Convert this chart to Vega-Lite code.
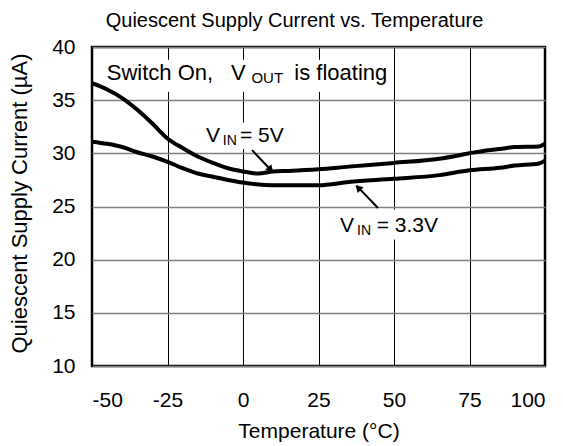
{
  "$schema": "https://vega.github.io/schema/vega-lite/v6.json",
  "width": 453,
  "height": 319,
  "autosize": {"type": "none"},
  "padding": {"left": 92, "top": 47, "right": 18, "bottom": 80},
  "background": "white",
  "title": {
    "text": "Quiescent Supply Current vs. Temperature",
    "font": "Liberation Sans",
    "fontSize": 20,
    "fontWeight": "normal",
    "color": "black",
    "anchor": "middle",
    "frame": "group",
    "offset": 5,
    "dx": -24
  },
  "config": {
    "view": {"stroke": "black", "strokeWidth": 2.5},
    "font": "Liberation Sans",
    "axis": {
      "labelFont": "Liberation Sans",
      "titleFont": "Liberation Sans",
      "labelColor": "black",
      "titleColor": "black",
      "labelFontSize": 21,
      "titleFontSize": 21,
      "titleFontWeight": "normal",
      "ticks": false,
      "domain": false,
      "labelExpr": "'' + datum.value"
    }
  },
  "layer": [
    {
      "data": {
        "values": [
          {"x": -47.0, "x2": 49.0, "y": 38.8, "y2": 35.8},
          {"x": -13.0, "x2": 14.0, "y": 32.9, "y2": 30.4},
          {"x": 31.5, "x2": 65.0, "y": 24.7, "y2": 21.9}
        ]
      },
      "mark": {"type": "rect", "color": "white", "opacity": 1},
      "encoding": {
        "x": {"field": "x", "type": "quantitative", "scale": {"domain": [-50, 100], "nice": false, "zero": false}},
        "y": {"field": "y", "type": "quantitative", "scale": {"domain": [10, 40], "nice": false, "zero": false}},
        "x2": {"field": "x2"},
        "y2": {"field": "y2"}
      }
    },
    {
      "data": {
        "values": [
          {"t": -50, "i": 36.6, "vin": "5V"},
          {"t": -45, "i": 36.0, "vin": "5V"},
          {"t": -40, "i": 35.2, "vin": "5V"},
          {"t": -35, "i": 34.1, "vin": "5V"},
          {"t": -30, "i": 32.8, "vin": "5V"},
          {"t": -25, "i": 31.4, "vin": "5V"},
          {"t": -20, "i": 30.5, "vin": "5V"},
          {"t": -15, "i": 29.7, "vin": "5V"},
          {"t": -10, "i": 29.1, "vin": "5V"},
          {"t": -5, "i": 28.6, "vin": "5V"},
          {"t": 0, "i": 28.3, "vin": "5V"},
          {"t": 5, "i": 28.1, "vin": "5V"},
          {"t": 10, "i": 28.3, "vin": "5V"},
          {"t": 15, "i": 28.35, "vin": "5V"},
          {"t": 25, "i": 28.5, "vin": "5V"},
          {"t": 35, "i": 28.75, "vin": "5V"},
          {"t": 50, "i": 29.1, "vin": "5V"},
          {"t": 65, "i": 29.5, "vin": "5V"},
          {"t": 75, "i": 30.0, "vin": "5V"},
          {"t": 80, "i": 30.25, "vin": "5V"},
          {"t": 85, "i": 30.4, "vin": "5V"},
          {"t": 90, "i": 30.6, "vin": "5V"},
          {"t": 98, "i": 30.65, "vin": "5V"},
          {"t": 100, "i": 30.9, "vin": "5V"},
          {"t": -50, "i": 31.1, "vin": "3.3V"},
          {"t": -45, "i": 30.9, "vin": "3.3V"},
          {"t": -40, "i": 30.6, "vin": "3.3V"},
          {"t": -35, "i": 30.1, "vin": "3.3V"},
          {"t": -30, "i": 29.7, "vin": "3.3V"},
          {"t": -25, "i": 29.2, "vin": "3.3V"},
          {"t": -20, "i": 28.6, "vin": "3.3V"},
          {"t": -15, "i": 28.1, "vin": "3.3V"},
          {"t": -10, "i": 27.8, "vin": "3.3V"},
          {"t": -5, "i": 27.5, "vin": "3.3V"},
          {"t": 0, "i": 27.25, "vin": "3.3V"},
          {"t": 10, "i": 27.0, "vin": "3.3V"},
          {"t": 25, "i": 27.0, "vin": "3.3V"},
          {"t": 35, "i": 27.3, "vin": "3.3V"},
          {"t": 50, "i": 27.6, "vin": "3.3V"},
          {"t": 65, "i": 27.95, "vin": "3.3V"},
          {"t": 75, "i": 28.4, "vin": "3.3V"},
          {"t": 85, "i": 28.65, "vin": "3.3V"},
          {"t": 90, "i": 28.85, "vin": "3.3V"},
          {"t": 98, "i": 29.05, "vin": "3.3V"},
          {"t": 100, "i": 29.3, "vin": "3.3V"}
        ]
      },
      "mark": {"type": "line", "color": "black", "strokeWidth": 4, "interpolate": "monotone", "clip": true},
      "encoding": {
        "x": {
          "field": "t", "type": "quantitative",
          "scale": {"domain": [-50, 100], "nice": false, "zero": false},
          "axis": {
            "values": [-50, -25, 0, 25, 50, 75, 100],
            "title": "Temperature (°C)",
            "labelPadding": 23,
            "gridColor": "black",
            "gridWidth": 1,
            "gridOpacity": 1,
            "titleBaseline": "alphabetic",
            "titleY": 71,
            "titleX": 226.5
          }
        },
        "y": {
          "field": "i", "type": "quantitative",
          "scale": {"domain": [10, 40], "nice": false, "zero": false},
          "axis": {
            "values": [10, 15, 20, 25, 30, 35, 40],
            "title": "Quiescent Supply Current (µA)",
            "titleFontSize": 22,
            "labelPadding": 17,
            "gridColor": "#808080",
            "gridWidth": 1.5,
            "gridOpacity": 1,
            "titleBaseline": "alphabetic",
            "titleAngle": -90,
            "titleX": -66,
            "titleY": 156
          }
        },
        "detail": {"field": "vin", "type": "nominal"}
      }
    },
    {
      "data": {
        "values": [
          {"x": 3.0, "y": 30.3, "x2": 9.0, "y2": 28.5},
          {"x": 44.7, "y": 24.86, "x2": 38.3, "y2": 26.75}
        ]
      },
      "mark": {"type": "rule", "color": "black", "strokeWidth": 2},
      "encoding": {
        "x": {"field": "x", "type": "quantitative", "scale": {"domain": [-50, 100], "nice": false, "zero": false}},
        "y": {"field": "y", "type": "quantitative", "scale": {"domain": [10, 40], "nice": false, "zero": false}},
        "x2": {"field": "x2"},
        "y2": {"field": "y2"}
      }
    },
    {
      "data": {
        "values": [
          {"x": 8.9, "y": 28.55, "a": 138},
          {"x": 38.4, "y": 26.7, "a": 316}
        ]
      },
      "mark": {"type": "point", "shape": "triangle", "filled": true, "color": "black", "opacity": 1, "size": 70},
      "encoding": {
        "x": {"field": "x", "type": "quantitative", "scale": {"domain": [-50, 100], "nice": false, "zero": false}},
        "y": {"field": "y", "type": "quantitative", "scale": {"domain": [10, 40], "nice": false, "zero": false}},
        "angle": {"field": "a", "type": "quantitative", "scale": null}
      }
    },
    {
      "data": {
        "values": [
          {"x": -45.1, "y": 36.9, "txt": "Switch On,", "sz": 22},
          {"x": -4.0, "y": 36.9, "txt": "V", "sz": 22},
          {"x": 2.8, "y": 36.6, "txt": "OUT", "sz": 15},
          {"x": 17.0, "y": 36.9, "txt": "is floating", "sz": 22},
          {"x": -12.25, "y": 31.09, "txt": "V", "sz": 21},
          {"x": -6.7, "y": 30.78, "txt": "IN", "sz": 14},
          {"x": -1.0, "y": 31.09, "txt": "= 5V", "sz": 21},
          {"x": 32.1, "y": 22.63, "txt": "V", "sz": 21},
          {"x": 37.75, "y": 22.32, "txt": "IN", "sz": 14},
          {"x": 44.27, "y": 22.63, "txt": "= 3.3V", "sz": 21}
        ]
      },
      "mark": {"type": "text", "align": "left", "baseline": "alphabetic", "color": "black", "font": "Liberation Sans"},
      "encoding": {
        "x": {"field": "x", "type": "quantitative", "scale": {"domain": [-50, 100], "nice": false, "zero": false}},
        "y": {"field": "y", "type": "quantitative", "scale": {"domain": [10, 40], "nice": false, "zero": false}},
        "text": {"field": "txt"},
        "size": {"field": "sz", "type": "quantitative", "scale": null}
      }
    }
  ]
}
